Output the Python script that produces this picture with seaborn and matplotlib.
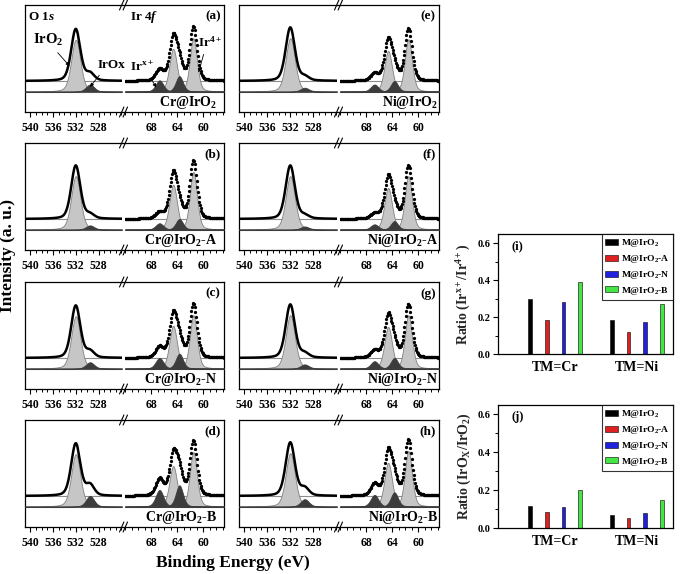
import numpy as np
import pandas as pd
import matplotlib
matplotlib.use('Agg')
import matplotlib.pyplot as plt
import seaborn as sns
from matplotlib.lines import Line2D
from matplotlib.ticker import MultipleLocator

# ---------------- data ----------------
sample_names = ['Cr@IrO$_2$', 'Cr@IrO$_2$-A', 'Cr@IrO$_2$-N', 'Cr@IrO$_2$-B',
                'Ni@IrO$_2$', 'Ni@IrO$_2$-A', 'Ni@IrO$_2$-N', 'Ni@IrO$_2$-B']
panel_tags = ['(a)', '(b)', '(c)', '(d)', '(e)', '(f)', '(g)', '(h)']

# O 1s fitted components: IrO2 lattice O and IrOx
o1s_centers = [532.0, 529.5]
o1s_fwhm = [1.9, 1.7]
o1s_iro2_height = [0.485, 0.50, 0.49, 0.49, 0.50, 0.50, 0.50, 0.50]
o1s_irox_height = [0.067, 0.040, 0.060, 0.100, 0.037, 0.030, 0.040, 0.070]

# Ir 4f fitted components: Ir4+ 4f7/2, Ir4+ 4f5/2, Irx+ 4f7/2, Irx+ 4f5/2
ir4f_centers = [61.5, 64.6, 63.65, 66.7]
ir4f_fwhm = [1.3, 1.4, 1.3, 1.4]
ir4_72_height = [0.50, 0.54, 0.50, 0.51, 0.49, 0.50, 0.50, 0.52]
ir4_52_height = [0.40, 0.42, 0.40, 0.38, 0.38, 0.39, 0.39, 0.41]
irx_72_height = [0.145, 0.10, 0.14, 0.20, 0.10, 0.08, 0.10, 0.134]
irx_52_height = [0.106, 0.06, 0.10, 0.156, 0.067, 0.05, 0.07, 0.11]

# bar charts
tm_labels = ['TM=Cr', 'TM=Ni']
series_labels = ['M@IrO$_2$', 'M@IrO$_2$-A', 'M@IrO$_2$-N', 'M@IrO$_2$-B']
ratio_ir = {'TM=Cr': [0.30, 0.185, 0.28, 0.39], 'TM=Ni': [0.185, 0.12, 0.175, 0.27]}
ratio_o = {'TM=Cr': [0.118, 0.083, 0.11, 0.20], 'TM=Ni': [0.070, 0.053, 0.080, 0.147]}
bar_colors = ['#000000', '#ff0000', '#0000ff', '#2bff2b']

# ---------------- style ----------------
sns.set_theme(style='white')
plt.rcParams.update({
    'font.family': ['Liberation Serif', 'DejaVu Serif'],
    'font.weight': 'bold',
    'axes.labelweight': 'bold',
    'mathtext.fontset': 'custom',
    'mathtext.rm': 'Liberation Serif:bold',
    'mathtext.it': 'Liberation Serif:italic:bold',
    'mathtext.bf': 'Liberation Serif:bold',
    'axes.linewidth': 0.9,
    'axes.edgecolor': 'black',
    'xtick.color': 'black',
    'ytick.color': 'black',
    'text.color': 'black',
})

W, H = 685, 574
fig = plt.figure(figsize=(W / 100, H / 100), dpi=100)


def rect(l, t, r, b):
    return [l / W, 1 - b / H, (r - l) / W, (b - t) / H]


def pv(x, c, fwhm, h, eta=0.3):
    g = np.exp(-4 * np.log(2) * ((x - c) / fwhm) ** 2)
    lo = 1.0 / (1.0 + (2 * (x - c) / fwhm) ** 2)
    return h * (eta * lo + (1 - eta) * g)


col_x = [(25, 122, 125, 224), (239, 337, 340, 439)]
row_y = [(5, 112), (143, 250), (282, 389), (420, 527)]
ylim = (-0.19, 0.81)
offset = 0.10
o_xlim = (540.9, 523.9)
ir_xlim = (72.0, 56.8)
LIGHT, LEDGE, DARK = '#c6c6c6', '#808080', '#3c3c3c'
GRAYLINE = '#8c8c8c'

x_o = np.arange(523.9, 540.95, 0.05)
x_ir = np.arange(56.8, 72.05, 0.1)
x_ir_fine = np.arange(56.8, 72.02, 0.02)


def style_sub(ax, left=True):
    ax.set_ylim(*ylim)
    ax.set_yticks([])
    ax.set_facecolor('white')
    for s in ax.spines.values():
        s.set_visible(True)
        s.set_color('black')
        s.set_linewidth(0.9)
    if left:
        ax.spines['right'].set_visible(False)
    else:
        ax.spines['left'].set_visible(False)
    ax.xaxis.set_minor_locator(MultipleLocator(1))
    ax.tick_params(axis='x', which='major', direction='out', length=3.5, width=0.8,
                   labelsize=8.5, pad=3.5, bottom=True, top=False)
    ax.tick_params(axis='x', which='minor', direction='out', length=2, width=0.7,
                   bottom=True, top=False)
    ax.grid(False)
    ax.set_xlabel('')
    ax.set_ylabel('')


for i in range(8):
    col, row = i // 4, i % 4
    l1, r1, l2, r2 = col_x[col]
    t, b = row_y[row]
    axo = fig.add_axes(rect(l1, t, r1, b))
    axi = fig.add_axes(rect(l2, t, r2, b))

    # ---- O 1s ----
    c_iro2 = pv(x_o, o1s_centers[0], o1s_fwhm[0], o1s_iro2_height[i])
    c_irox = pv(x_o, o1s_centers[1], o1s_fwhm[1], o1s_irox_height[i])
    axo.axhline(0, color=GRAYLINE, lw=0.8, zorder=1)
    axo.axhline(offset, color=GRAYLINE, lw=0.8, zorder=1)
    axo.fill_between(x_o, 0, c_iro2, facecolor=LIGHT, edgecolor=LEDGE, lw=0.6, zorder=2)
    axo.fill_between(x_o, 0, c_irox, facecolor=DARK, edgecolor=DARK, lw=0.6, zorder=3)
    env_o = pd.DataFrame({'be': x_o, 'I': c_iro2 + c_irox + offset})
    sns.lineplot(data=env_o, x='be', y='I', ax=axo, color='black', lw=1.8, zorder=4)
    axo.set_xlim(*o_xlim)
    axo.set_xticks([540, 536, 532, 528])
    style_sub(axo, left=True)

    # ---- Ir 4f ----
    hs = [ir4_72_height[i], ir4_52_height[i], irx_72_height[i], irx_52_height[i]]
    comps = [pv(x_ir_fine, ir4f_centers[k], ir4f_fwhm[k], hs[k]) for k in range(4)]
    axi.axhline(0, color=GRAYLINE, lw=0.8, zorder=1)
    axi.axhline(offset, color=GRAYLINE, lw=0.8, zorder=1)
    for k in range(2):
        axi.fill_between(x_ir_fine, 0, comps[k], facecolor=LIGHT, edgecolor=LEDGE, lw=0.6, zorder=2)
    for k in range(2, 4):
        axi.fill_between(x_ir_fine, 0, comps[k], facecolor=DARK, edgecolor=DARK, lw=0.6, zorder=3)
    env_i = sum(pv(x_ir, ir4f_centers[k], ir4f_fwhm[k], hs[k]) for k in range(4)) + offset
    sns.scatterplot(x=x_ir, y=env_i, ax=axi, color='black', s=5.5, linewidth=0, zorder=4)
    axi.set_xlim(*ir_xlim)
    axi.set_xticks([68, 64, 60])
    style_sub(axi, left=False)

    # labels
    axi.text(0.965, 0.89, panel_tags[i], transform=axi.transAxes, ha='right', va='center',
             fontsize=9.5, fontweight='bold')
    lab_x = 0.93 if col == 0 else 0.985
    axi.text(lab_x, 0.06, sample_names[i], transform=axi.transAxes, ha='right', va='baseline',
             fontsize=10, fontweight='bold')

    # break marks
    xb = (r1 + l2) / 2
    for yy in (t, b):
        fig.add_artist(Line2D([r1 / W, l2 / W], [1 - yy / H, 1 - yy / H],
                              transform=fig.transFigure, color='black', lw=0.9))
        for dx in (-1.8, 1.8):
            xc = xb + dx
            fig.add_artist(Line2D([(xc - 2.2) / W, (xc + 2.2) / W],
                                  [1 - (yy + 5) / H, 1 - (yy - 5) / H],
                                  transform=fig.transFigure, color='black', lw=0.8))

    if i == 0:
        axo.text(0.03, 0.89, 'O 1$s$', transform=axo.transAxes, ha='left', va='center',
                 fontsize=9.5, fontweight='bold')
        axi.text(0.05, 0.89, 'Ir 4$f$', transform=axi.transAxes, ha='left', va='center',
                 fontsize=9.5, fontweight='bold')
        ap = dict(arrowstyle='-|>', lw=0.6, color='black', mutation_scale=5,
                  shrinkA=1, shrinkB=0)
        axo.annotate('IrO$_2$', xy=(533.1, 0.24), xytext=(536.9, 0.48), ha='center', va='center',
                     fontsize=10.5, arrowprops=dict(ap, relpos=(0.7, 0.0)), annotation_clip=False)
        axo.annotate('IrOx', xy=(529.5, 0.045), xytext=(525.8, 0.25), ha='center', va='center',
                     fontsize=9.5, arrowprops=dict(ap, relpos=(0.2, 0.0)), annotation_clip=False)
        axi.annotate('Ir$^{\\mathrm{x+}}$', xy=(67.2, 0.04), xytext=(69.4, 0.23), ha='center',
                     va='center', fontsize=9.5, arrowprops=dict(ap, relpos=(0.75, 0.0)),
                     annotation_clip=False)
        axi.annotate('Ir$^{4+}$', xy=(60.7, 0.18), xytext=(59.0, 0.46), ha='center', va='center',
                     fontsize=9.5, arrowprops=dict(ap, relpos=(0.3, 0.0)), annotation_clip=False)

fig.text(8 / W, 1 - 255 / H, 'Intensity (a. u.)', rotation=90, ha='center', va='center',
         fontsize=12.5, fontweight='bold')
fig.text(233 / W, 1 - 563 / H, 'Binding Energy (eV)', ha='center', va='center',
         fontsize=12.5, fontweight='bold')

# ---------------- bar charts ----------------
bar_specs = [
    ((498, 234, 673, 354), ratio_ir, '(i)', 'Ratio (Ir$^{\\mathrm{x+}}$/Ir$^{4+}$)'),
    ((498, 405, 673, 528), ratio_o, '(j)', 'Ratio (IrO$_{\\mathrm{X}}$/IrO$_2$)'),
]
for (l, t, r, b), ratios, tag, ylab in bar_specs:
    ax = fig.add_axes(rect(l, t, r, b))
    rows = []
    for tm in tm_labels:
        for s, v in zip(series_labels, ratios[tm]):
            rows.append({'tm': tm, 'series': s, 'ratio': v})
    df = pd.DataFrame(rows)
    sns.barplot(data=df, x='tm', y='ratio', hue='series', hue_order=series_labels,
                order=tm_labels, palette=bar_colors, width=0.816, gap=0.78,
                errorbar=None, edgecolor='black', linewidth=0.4, ax=ax)
    ax.set_xlim(-0.70, 1.444)
    ax.set_ylim(0, 0.65)
    ax.set_yticks([0.0, 0.2, 0.4, 0.6])
    ax.set_yticklabels(['0.0', '0.2', '0.4', '0.6'])
    ax.yaxis.set_minor_locator(MultipleLocator(0.1))
    ax.tick_params(axis='y', which='major', direction='out', length=3.5, width=0.8,
                   labelsize=7.5, pad=2, left=True)
    ax.tick_params(axis='y', which='minor', direction='out', length=2, width=0.7, left=True)
    ax.tick_params(axis='x', length=0, labelsize=10, pad=5)
    for s in ax.spines.values():
        s.set_visible(True)
        s.set_color('black')
        s.set_linewidth(0.9)
    ax.set_xlabel('')
    ax.set_ylabel(ylab, fontsize=10, fontweight='bold', labelpad=3)
    ax.grid(False)
    ax.text(0.08, 0.9, tag, transform=ax.transAxes, ha='left', va='center',
            fontsize=9, fontweight='bold')
    handles, labels = ax.get_legend_handles_labels()
    leg = ax.legend(handles, labels, loc='upper right', borderaxespad=0, fontsize=6.8,
                    frameon=True, fancybox=False, edgecolor='black', handlelength=1.4,
                    handleheight=0.6, labelspacing=0.4, borderpad=0.35, handletextpad=0.3)
    leg.get_frame().set_linewidth(0.8)
    for txt in leg.get_texts():
        txt.set_fontweight('bold')

fig.savefig('out.png', dpi=100)
